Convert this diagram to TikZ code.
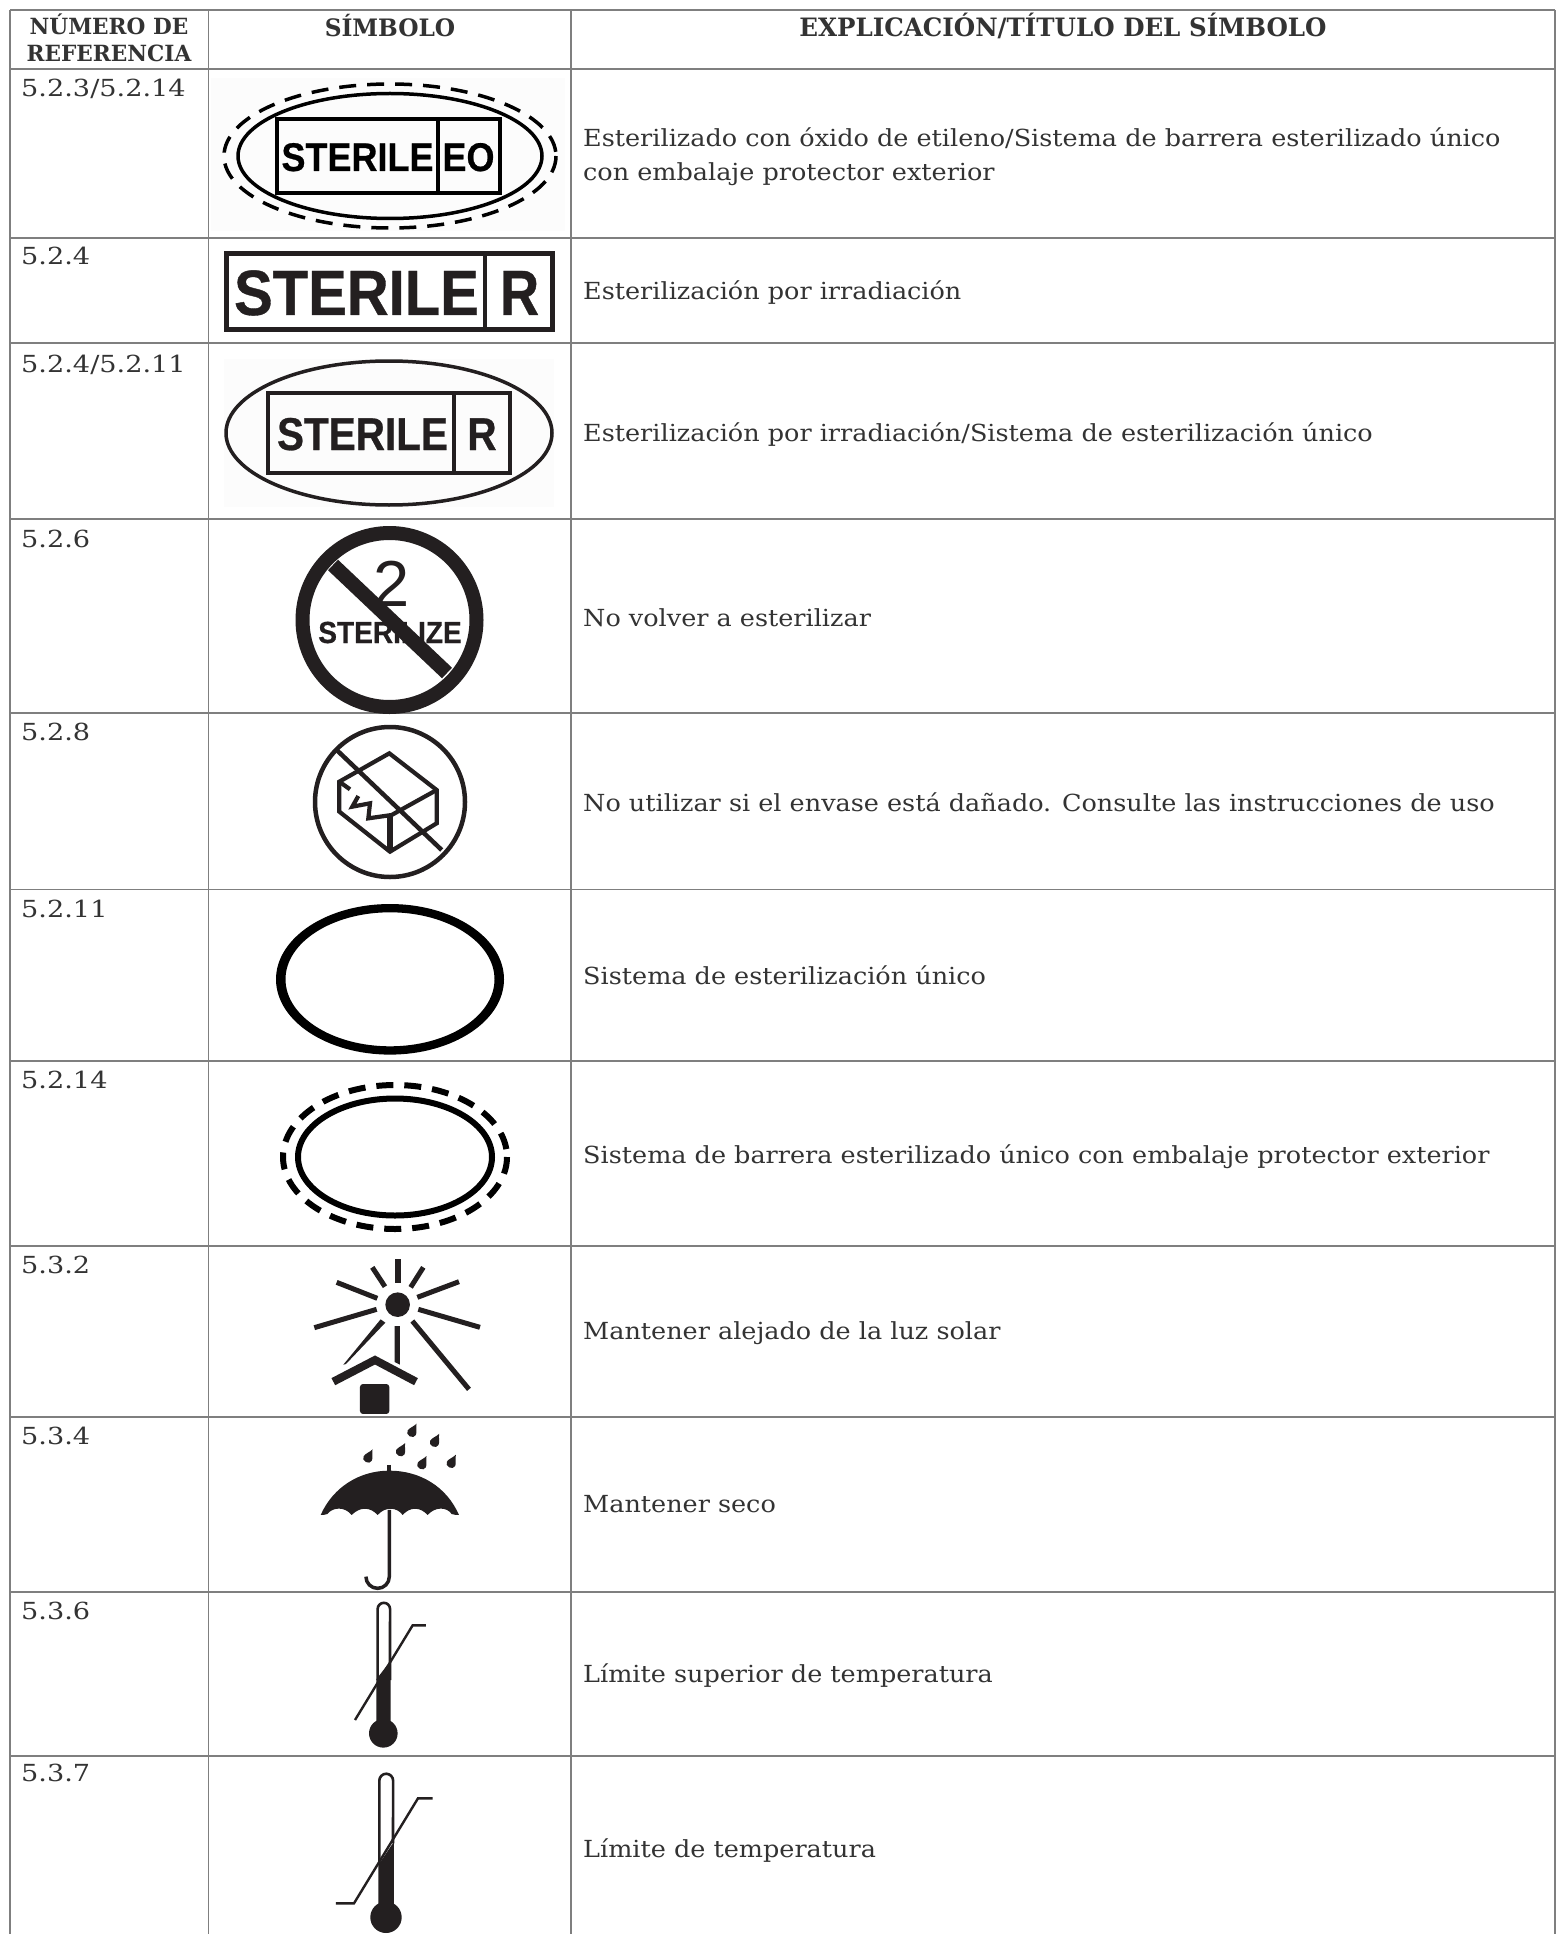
\documentclass[tikz,border=0pt]{standalone}
\usepackage{fontspec}
\setmainfont{DejaVu Serif}[FakeStretch=1.085]
\newfontfamily\numfont{DejaVu Serif}[FakeStretch=1.155]
\newfontfamily\hdrfont{DejaVu Serif Bold}[FakeStretch=0.97]
\newfontfamily\sansr{Liberation Sans}
\newfontfamily\sansb{Liberation Sans Bold}[FakeBold=0.6]
\tikzset{
  grid/.style={draw=gridgray,line width=1.4pt},
  lab/.style={anchor=base west,inner sep=0pt,text=txt,font=\fontsize{23.5}{28}\selectfont},
  num/.style={anchor=base west,inner sep=0pt,text=txt,font=\numfont\fontsize{23.5}{28}\selectfont},
  hdr/.style={anchor=base,inner sep=0pt,text=txt},
  drop/.pic={\fill[symb,rotate=-28] (0,-27) .. controls (3,-16) and (14,-5) .. (14,4) .. controls (14,11) and (8,16) .. (0,16) .. controls (-8,16) and (-14,11) .. (-14,4) .. controls (-14,-5) and (-3,-16) .. (0,-27) -- cycle;}
}
\definecolor{gridgray}{HTML}{7F7F7F}
\definecolor{txt}{HTML}{333333}
\definecolor{symb}{HTML}{231F20}
\begin{document}
\begin{tikzpicture}[x=1pt,y=-1pt]
\useasboundingbox (0,0) rectangle (1565,1934);
\fill[white] (0,0) rectangle (1565,1934);
% grid
\foreach \yy in {10,69,238,343,519,713,889.5,1061,1246,1417,1592,1756} \draw[grid] (10,\yy) -- (1555,\yy);
\foreach \xx in {10,208.5,571,1555} \draw[grid] (\xx,10) -- (\xx,1934);
% header
\node[hdr] (h1a) at (109,35) {\hdrfont\fontsize{22.3}{26}\selectfont NÚMERO DE};
\node[hdr] (h1b) at (109,62) {\hdrfont\fontsize{22.3}{26}\selectfont REFERENCIA};
\node[hdr] (h2) at (390,37) {\hdrfont\fontsize{24}{28}\selectfont SÍMBOLO};
\node[hdr] (h3) at (1063,37) {\hdrfont\fontsize{25.3}{28}\selectfont EXPLICACIÓN/TÍTULO DEL SÍMBOLO};
% reference numbers
\node[num] (r1) at (21,97) {5.2.3/5.2.14};
\node[num] (r2) at (21,265) {5.2.4};
\node[num] (r3) at (21,372) {5.2.4/5.2.11};
\node[num] (r4) at (21,547) {5.2.6};
\node[num] (r5) at (21,740) {5.2.8};
\node[num] (r6) at (21,917) {5.2.11};
\node[num] (r7) at (21,1088) {5.2.14};
\node[num] (r8) at (21,1273) {5.3.2};
\node[num] (r9) at (21,1444) {5.3.4};
\node[num] (r10) at (21,1619) {5.3.6};
\node[num] (r11) at (21,1781) {5.3.7};
% explanations
\node[lab] (e1a) at (583,147) {Esterilizado con óxido de etileno/Sistema de barrera esterilizado único};
\node[lab] (e1b) at (583,180.5) {con embalaje protector exterior};
\node[lab] (e2) at (583,300) {Esterilización por irradiación};
\node[lab] (e3) at (583,441) {Esterilización por irradiación/Sistema de esterilización único};
\node[lab] (e4) at (583,626) {No volver a esterilizar};
\node[lab] (e5) at (583,811) {No utilizar si el envase está dañado. Consulte las instrucciones de uso};
\node[lab] (e6) at (583,984) {Sistema de esterilización único};
\node[lab] (e7) at (583,1163) {Sistema de barrera esterilizado único con embalaje protector exterior};
\node[lab] (e8) at (583,1339) {Mantener alejado de la luz solar};
\node[lab] (e9) at (583,1512) {Mantener seco};
\node[lab] (e10) at (583,1682) {Límite superior de temperatura};
\node[lab] (e11) at (583,1857) {Límite de temperatura};
% row 1
\fill[black!1] (211,78) rectangle (565,231);
\draw[black,line width=3.5pt,dash pattern=on 17pt off 11pt] (390,156) ellipse [x radius=166,y radius=72];
\draw[black,line width=3.5pt] (390,156) ellipse [x radius=152,y radius=62.5];
\draw[black,line width=3.5pt] (277,119) rectangle (500,193) (438,119) -- (438,193);
\node[inner sep=0pt,anchor=base] (s1) at (357.5,171) {\scalebox{0.9}[1]{\sansb\fontsize{40}{40}\selectfont STERILE}};
\node[inner sep=0pt,anchor=base] (s1b) at (468.5,171) {\scalebox{0.9}[1]{\sansb\fontsize{40}{40}\selectfont EO}};
% row 2
\draw[symb,line width=5.5pt] (226.7,253.7) rectangle (552.3,329.3);
\draw[symb,line width=4pt] (485,252) -- (485,331);
\node[inner sep=0pt,anchor=base,text=symb] (s2) at (356.5,315) {\scalebox{0.906}[1]{\sansb\fontsize{64}{64}\selectfont STERILE}};
\node[inner sep=0pt,anchor=base,text=symb] (s2b) at (519.5,315) {\scalebox{0.85}[1]{\sansb\fontsize{64}{64}\selectfont R}};
% row 3
\fill[black!1] (224,359) rectangle (554,507);
\draw[symb,line width=3.5pt] (389,433) ellipse [x radius=163,y radius=72];
\draw[symb,line width=3.5pt] (268,393) rectangle (510,473) (454,393) -- (454,473);
\node[inner sep=0pt,anchor=base,text=symb] (s3) at (362.5,450) {\scalebox{0.88}[1]{\sansb\fontsize{46}{46}\selectfont STERILE}};
\node[inner sep=0pt,anchor=base,text=symb] (s3b) at (482,450) {\scalebox{0.88}[1]{\sansb\fontsize{46}{46}\selectfont R}};
% row 4
\node[inner sep=0pt,anchor=base,text=symb] (s4n) at (392,606.5) {\sansr\fontsize{65}{65}\selectfont 2};
\node[inner sep=0pt,anchor=base,text=symb] (s4) at (390,643) {\scalebox{0.92}[1]{\sansb\fontsize{30.5}{30}\selectfont STERILIZE}};
\draw[symb,line width=14pt] (389.5,620) circle (87);
\draw[symb,line width=14.5pt] (333,565) -- (447,673);
% row 5
\draw[symb,line width=4.5pt] (390,802) circle (75);
\draw[symb,line width=4.5pt] (336.7,750) -- (441.7,850);
\begin{scope}[shift={(320,740)},x=0.3333pt,y=-0.3333pt,line join=miter]
\draw[symb,line width=4.2pt] (208,40) -- (58,125) -- (58,215) -- (210,335) -- (350,250) -- (350,150) -- cycle;
\draw[symb,line width=4.2pt] (350,150) -- (215,225) -- (145,235) -- (150,190) -- (97,200) -- (115,168);
\draw[symb,line width=4.2pt] (58,125) -- (90,148);
\draw[symb,line width=6pt] (211,225) -- (211,335);
\end{scope}
% row 6
\fill[black,even odd rule] (390,979.3) ellipse [x radius=114,y radius=75.3] (390,979.3) ellipse [x radius=104.5,y radius=67];
% row 7
\draw[black,line width=6pt,dash pattern=on 17pt off 11pt] (395,1157) ellipse [x radius=112,y radius=72];
\draw[black,line width=6pt] (395,1157) ellipse [x radius=97,y radius=58.5];
% row 8
\begin{scope}[shift={(250,1240)},x=0.3333pt,y=-0.3333pt]
\fill[symb] (443,194) circle (12.3pt);
\draw[symb,line width=6pt] (444,57) -- (444,130);
\draw[symb,line width=5pt] (367,82) -- (405,140);
\draw[symb,line width=5pt] (520,82) -- (482,142);
\draw[symb,line width=5pt] (260,127) -- (382,175);
\draw[symb,line width=5pt] (627,125) -- (502,172);
\draw[symb,line width=5pt] (193,263) -- (380,208);
\draw[symb,line width=5pt] (690,262) -- (505,208);
\fill[symb] (392,238) -- (406,248) -- (288,372) -- (280,374) -- cycle;
\fill[symb] (434,258) -- (450,258) -- (450,374) -- (434,366) -- cycle;
\draw[symb,line width=5pt] (487,243) -- (657,448);
\draw[symb,line width=8pt] (250,425) -- (375,360) -- (498,425);
\fill[symb,rounded corners=3pt] (330,432) rectangle (418,522);
\end{scope}
% row 9
\begin{scope}[shift={(250,1240)},x=0.3333pt,y=-0.3333pt]
\fill[symb] (212,825) .. controls (250,740) and (330,692) .. (418,692) .. controls (510,692) and (590,740) .. (627,825)
 .. controls (620,825) and (612,825) .. (605,822) .. controls (590,800) and (555,800) .. (533,825)
 .. controls (510,800) and (480,800) .. (458,825) .. controls (440,800) and (405,800) .. (383,825)
 .. controls (360,800) and (330,800) .. (305,825) .. controls (285,800) and (250,800) .. (232,822)
 .. controls (225,825) and (218,825) .. (212,825) -- cycle;
\draw[symb,line width=4pt] (418,675) -- (418,700);
\draw[symb,line width=3.5pt] (418,810) -- (418,1010) arc[start angle=0,end angle=-180,radius=11.7pt] ;
\foreach \dx/\dy in {487/575,555/605,453/633,355/652,517/672,605/668}
  \pic at (\dx,\dy) {drop};
\end{scope}
% row 10
\begin{scope}[shift={(280,1590)},x=0.3333pt,y=-0.3333pt]
\fill[symb] (289,268) -- (332,212) -- (332,400) -- (289,400) -- cycle;
\fill[symb] (310,430) circle (14.3pt);
\draw[symb,line width=2.6pt] (293,270) -- (293,57) arc[start angle=180,end angle=0,radius=6.2pt] -- (330,270);
\draw[symb,line width=2.4pt] (225,390) -- (398,106) -- (438,106);
\end{scope}
% row 11
\begin{scope}[shift={(280,1590)},x=0.3333pt,y=-0.3333pt]
\fill[symb] (295,825) -- (342,755) -- (342,950) -- (295,950) -- cycle;
\fill[symb] (318,982) circle (15.7pt);
\draw[symb,line width=2.6pt] (298,825) -- (298,572) arc[start angle=180,end angle=0,radius=6.9pt] -- (339,760);
\draw[symb,line width=2.4pt] (168,940) -- (222,940) -- (414,625) -- (458,625);
\end{scope}
\end{tikzpicture}
\end{document}
